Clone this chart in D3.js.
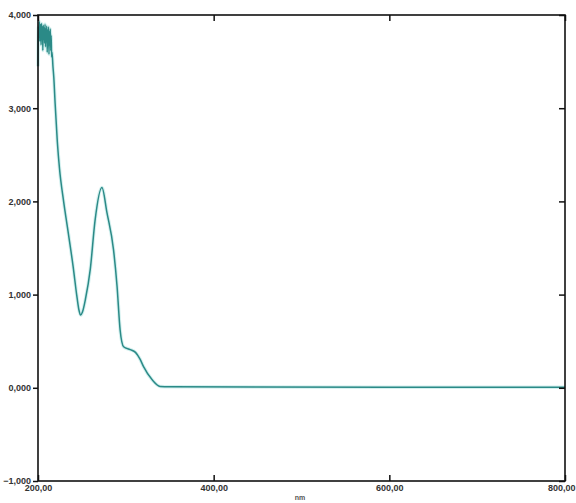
<!DOCTYPE html>
<html>
<head>
<meta charset="utf-8">
<script src="https://cdn.jsdelivr.net/npm/d3@7"></script>
<style>
    body { margin: 0; background: #fff; }
    svg { display: block; }
    .tick text { font-family: "Liberation Sans", Arial, sans-serif; font-weight: bold; font-size: 9px; fill: #333; }
</style>
</head>
<body>
<div id="chart"></div>
<script>
// wavelength (nm) and absorbance
const wavelengths = [
    200, 200.5, 201, 201.5, 202, 202.5, 203, 203.5, 204, 204.5, 205, 205.5, 206, 206.5,
    207, 207.5, 208, 208.5, 209, 209.5, 210, 210.5, 211, 211.5, 212, 212.5, 213, 213.5,
    214, 214.5, 215, 215.5, 216, 217, 218, 219.5, 222, 224.5, 229, 234.5, 240, 244,
    246.5, 248.5, 250.5, 254, 259.5, 265, 272.8, 278.5, 286, 290, 293.5, 297.5, 305, 311,
    316, 320, 330, 339, 350, 450, 600, 800
];
const absorbance = [
    3.45, 3.88, 3.80, 3.93, 3.72, 3.90, 3.84, 3.68, 3.91, 3.78, 3.87, 3.62, 3.89, 3.75,
    3.86, 3.70, 3.90, 3.66, 3.85, 3.79, 3.88, 3.60, 3.84, 3.72, 3.87, 3.58, 3.82, 3.70,
    3.85, 3.62, 3.78, 3.55, 3.60, 3.45, 3.33, 3.05, 2.64, 2.35, 2.01, 1.66, 1.30, 1.00,
    0.84, 0.78, 0.81, 0.95, 1.27, 1.80, 2.15, 1.88, 1.48, 1.09, 0.62, 0.44, 0.41, 0.38,
    0.31, 0.23, 0.086, 0.015, 0.01, 0.008, 0.006, 0.005
];
const xTicks = [200, 400, 600, 800];
const yTicks = [-1, 0, 1, 2, 3, 4];
const xLabel = "nm";

const width = 576;
const height = 503;
const margin = { top: 15, right: 11, bottom: 22, left: 38 };

const svg = d3.select("#chart")
    .append("svg")
    .attr("width", width)
    .attr("height", height);

const x = d3.scaleLinear().domain([200, 800]).range([margin.left, width - margin.right]);
const y = d3.scaleLinear().domain([-1, 4]).range([height - margin.bottom, margin.top]);

const fmtX = d => d3.format(".2f")(d).replace(".", ",");
const fmtY = d => d3.format(".3f")(d).replace(".", ",");

const data = wavelengths.map((w, i) => ({ w: w, a: absorbance[i] }));

// spectrum
const line = d3.line()
    .x(d => x(d.w))
    .y(d => y(d.a))
    .curve(d3.curveMonotoneX);

svg.append("path")
    .datum(data)
    .attr("fill", "none")
    .attr("stroke", "#b8e6e4")
    .attr("stroke-width", 3.5)
    .attr("stroke-opacity", 0.6)
    .attr("d", line);

svg.append("path")
    .datum(data)
    .attr("fill", "none")
    .attr("stroke", "#2b8a87")
    .attr("stroke-width", 1.5)
    .attr("stroke-linejoin", "round")
    .attr("d", line);

// axes
const bottom = height - margin.bottom;
const right = width - margin.right;

svg.append("g")
    .attr("transform", `translate(${margin.left},0)`)
    .call(d3.axisLeft(y).tickValues(yTicks).tickFormat(fmtY).tickSize(5).tickPadding(2));

const xAxis = svg.append("g")
    .attr("transform", `translate(0,${bottom})`)
    .call(d3.axisBottom(x).tickValues(xTicks).tickFormat(fmtX).tickSizeInner(-6).tickSizeOuter(0).tickPadding(4));

// last label would run off the page, pull it in
xAxis.selectAll(".tick text")
    .filter(d => d === 800)
    .attr("text-anchor", "end")
    .attr("x", width - 1 - right);

svg.append("g")
    .attr("transform", `translate(0,${margin.top})`)
    .call(d3.axisTop(x).tickValues(xTicks).tickFormat("").tickSizeInner(-6).tickSizeOuter(0));

svg.append("g")
    .attr("transform", `translate(${right},0)`)
    .call(d3.axisRight(y).tickValues(yTicks).tickFormat("").tickSizeInner(-6).tickSizeOuter(0));

svg.selectAll(".domain").remove();
svg.selectAll(".tick line").attr("stroke", "#111").attr("stroke-width", 1.5);

// frame
svg.append("rect")
    .attr("x", margin.left)
    .attr("y", margin.top)
    .attr("width", right - margin.left)
    .attr("height", bottom - margin.top)
    .attr("fill", "none")
    .attr("stroke", "#111")
    .attr("stroke-width", 1.6);

svg.append("text")
    .attr("x", 300)
    .attr("y", 500)
    .attr("text-anchor", "middle")
    .style("font-family", "Liberation Sans, Arial, sans-serif")
    .style("font-size", "7px")
    .style("font-weight", "bold")
    .style("fill", "#555")
    .text(xLabel);
</script>
</body>
</html>
